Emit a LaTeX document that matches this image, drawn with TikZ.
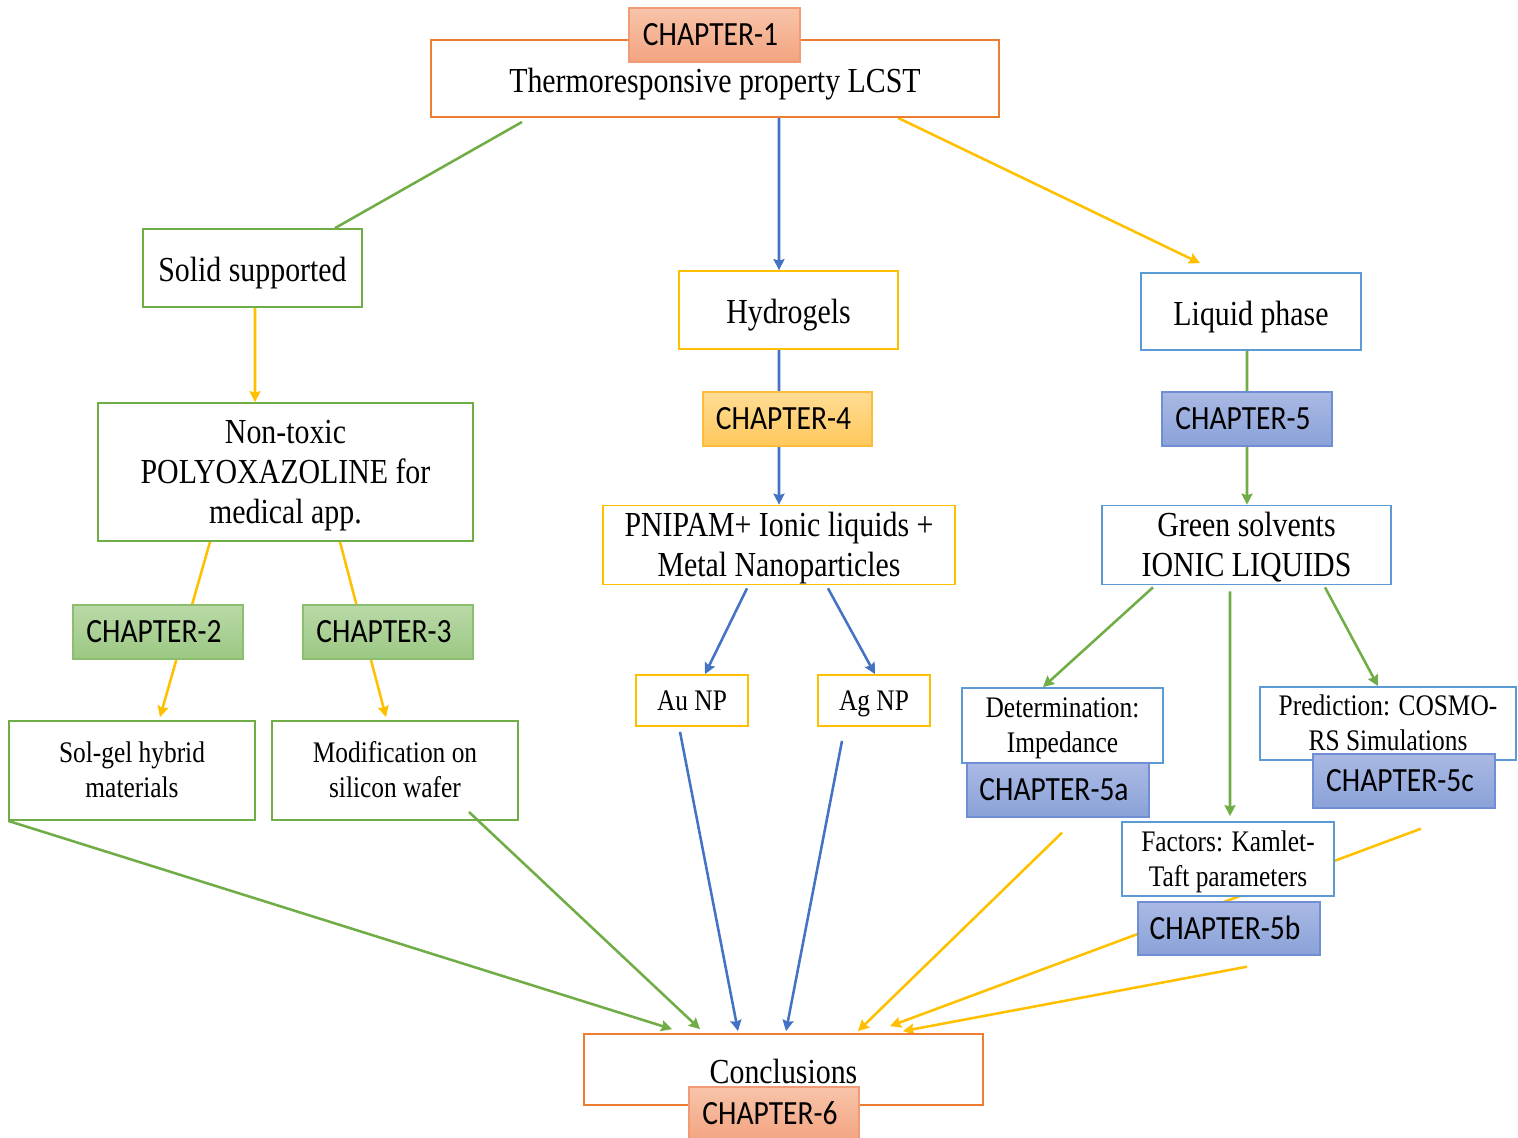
\documentclass[tikz,border=0pt]{standalone}
\usepackage{fontspec}
\setmainfont[FakeStretch=0.85]{Liberation Serif}
\newfontfamily\chapfont[FakeStretch=0.87]{Carlito}
\usetikzlibrary{arrows.meta}
\pgfdeclarelayer{bg}
\pgfsetlayers{bg,main}
\definecolor{corange}{HTML}{ED7D31}
\definecolor{cgreen}{HTML}{70AD47}
\definecolor{cyellow}{HTML}{FFC000}
\definecolor{cblue}{HTML}{4472C4}
\definecolor{cbluebox}{HTML}{5B9BD5}
\definecolor{chorT}{RGB}{248,196,170}
\definecolor{chorD}{RGB}{243,164,128}
\definecolor{chorB}{RGB}{240,155,115}
\definecolor{chgrT}{RGB}{186,217,167}
\definecolor{chgrD}{RGB}{155,200,131}
\definecolor{chgrB}{RGB}{140,190,112}
\definecolor{chyeT}{RGB}{255,220,148}
\definecolor{chyeD}{RGB}{255,200,92}
\definecolor{chyeB}{RGB}{250,190,60}
\definecolor{chblT}{RGB}{170,185,228}
\definecolor{chblD}{RGB}{138,162,216}
\definecolor{chblB}{RGB}{112,142,212}
% struts: big/small text, top line / bottom line / single line
\newcommand{\BT}{\rule{0pt}{17.7pt}}
\newcommand{\BB}{\rule[-4.5pt]{0pt}{4.5pt}}
\newcommand{\BS}{\rule[-5pt]{0pt}{25.4pt}}
\newcommand{\STp}{\rule{0pt}{15.2pt}}
\newcommand{\SBt}{\rule[-4pt]{0pt}{4pt}}
\newcommand{\SSg}{\rule[-4pt]{0pt}{19.2pt}}
\tikzset{
  box/.style={draw, fill=white, line width=1pt, inner sep=0pt, align=center, text=black},
  big/.style={font=\fontsize{20}{22.7}\selectfont},
  small/.style={font=\fontsize{17}{20}\selectfont},
  chap/.style={draw, line width=0.8pt, inner sep=0pt, text=black, font=\chapfont\fontsize{19.3}{22}\selectfont, minimum height=1.08cm, text height=12.9pt, text depth=0.9pt},
  chor/.style={chap, draw=chorB, top color=chorT, bottom color=chorD},
  chgr/.style={chap, draw=chgrB, top color=chgrT, bottom color=chgrD},
  chye/.style={chap, draw=chyeB, top color=chyeT, bottom color=chyeD},
  chbl/.style={chap, draw=chblB, top color=chblT, bottom color=chblD},
  conn/.style={line width=1.45pt, -{Stealth[length=0.22cm,width=0.22cm,inset=0.03cm]}},
  plainline/.style={line width=1.45pt},
}
\newcommand{\chtxt}[1]{#1\kern0.16cm}
\begin{document}
\begin{tikzpicture}[x=0.02cm,y=-0.02cm]
\useasboundingbox (0,0) rectangle (1518,1138);

% ---- nodes ----
\node[box, big, draw=corange, minimum width=11.36cm, minimum height=1.54cm] (top) at (715,78.5) {\BS Thermoresponsive property LCST};
\node[chor, minimum width=3.42cm] (ch1) at (714.5,35) {\chtxt{CHAPTER-1}};

\node[box, big, draw=cgreen, minimum width=4.38cm, minimum height=1.56cm] (solid) at (252.5,268) {\BS Solid supported};
\node[box, big, draw=cyellow, minimum width=4.38cm, minimum height=1.56cm] (hydro) at (788.5,310) {\BS Hydrogels};
\node[box, big, draw=cbluebox, minimum width=4.40cm, minimum height=1.54cm] (liquid) at (1251,311.5) {\BS Liquid phase};

\node[box, big, draw=cgreen, minimum width=7.50cm, minimum height=2.76cm] (nontox) at (285.5,472) {\BT Non-toxic\\POLYOXAZOLINE for\\medical app.\BB};
\node[chgr, minimum width=3.40cm] (ch2) at (158,632) {\chtxt{CHAPTER-2}};
\node[chgr, minimum width=3.40cm] (ch3) at (388,632) {\chtxt{CHAPTER-3}};
\node[box, small, draw=cgreen, minimum width=4.92cm, minimum height=1.98cm] (solgel) at (132,770.5) {\STp Sol-gel hybrid\\materials\SBt};
\node[box, small, draw=cgreen, minimum width=4.92cm, minimum height=1.98cm] (modif) at (395,770.5) {\STp Modification on\\silicon wafer\SBt};

\node[chye, minimum width=3.38cm] (ch4) at (787.5,419) {\chtxt{CHAPTER-4}};
\node[box, big, draw=cyellow, minimum width=7.04cm, minimum height=1.56cm] (pnipam) at (779,545) {\BT PNIPAM+ Ionic liquids +\\Metal Nanoparticles\BB};
\node[box, small, draw=cyellow, minimum width=2.24cm, minimum height=1.02cm] (au) at (692,700.5) {\SSg Au NP};
\node[box, small, draw=cyellow, minimum width=2.24cm, minimum height=1.02cm] (ag) at (874,700.5) {\SSg Ag NP};

\node[chbl, minimum width=3.40cm] (ch5) at (1247,419) {\chtxt{CHAPTER-5}};
\node[box, big, draw=cbluebox, minimum width=5.78cm, minimum height=1.56cm] (green) at (1246.5,545) {\BT Green solvents\\IONIC LIQUIDS\BB};
\node[box, small, draw=cbluebox, minimum width=4.02cm, minimum height=1.50cm] (determ) at (1062.5,725.5) {\STp Determination:\\Impedance\SBt};
\node[chbl, minimum width=3.64cm] (ch5a) at (1058,790) {\chtxt{CHAPTER-5a}};
\node[box, small, draw=cbluebox, minimum width=5.12cm, minimum height=1.46cm] (predict) at (1388,723.5) {\STp Prediction: COSMO-\\RS Simulations\SBt};
\node[chbl, minimum width=3.64cm] (ch5c) at (1404,781) {\chtxt{CHAPTER-5c}};
\node[box, small, draw=cbluebox, minimum width=4.24cm, minimum height=1.48cm] (factors) at (1228,859) {\STp Factors: Kamlet-\\Taft parameters\SBt};
\node[chbl, minimum width=3.64cm, minimum height=1.06cm] (ch5b) at (1229,928.5) {\chtxt{CHAPTER-5b}};

\node[box, big, draw=corange, minimum width=7.98cm, minimum height=1.42cm] (concl) at (783.5,1069.5) {\BS Conclusions};
\node[chor, minimum width=3.40cm] (ch6) at (774,1114) {\chtxt{CHAPTER-6}};

% ---- connectors (behind boxes) ----
\begin{pgfonlayer}{bg}
\coordinate (gstart) at (522,122);
\draw[plainline, cgreen] (gstart) -- ([xshift=1.65cm]solid.north);
\draw[conn, cblue] ([xshift=1.28cm]top.south) -- ([xshift=-0.19cm]hydro.north);
\draw[conn, cyellow] ([xshift=3.66cm]top.south) -- ([xshift=-1.02cm,yshift=0.18cm]liquid.north);
\draw[conn, cyellow] ([xshift=0.05cm]solid.south) -- ([xshift=-0.61cm]nontox.north);
\draw[conn, cyellow] ([xshift=-1.51cm]nontox.south) -- ([xshift=0.56cm,yshift=0.06cm]solgel.north);
\draw[conn, cyellow] ([xshift=1.09cm]nontox.south) -- ([xshift=-0.18cm,yshift=0.06cm]modif.north);
\draw[conn, cblue] ([xshift=-0.19cm]hydro.south) -- (pnipam.north);
\draw[conn, cblue] ([xshift=-0.64cm,yshift=-0.06cm]pnipam.south) -- ([xshift=0.26cm]au.north);
\draw[conn, cblue] ([xshift=0.98cm,yshift=-0.06cm]pnipam.south) -- ([xshift=0.02cm]ag.north);
\draw[conn, cgreen] ([xshift=-0.08cm]liquid.south) -- ([xshift=0.01cm]green.north);
\draw[conn, cgreen] ([xshift=-1.87cm,yshift=-0.04cm]green.south) -- ([xshift=-0.39cm]determ.north);
\draw[conn, cgreen] ([xshift=-0.33cm,yshift=-0.12cm]green.south) -- ([xshift=0.04cm,yshift=0.1cm]factors.north);
\draw[conn, cgreen] ([xshift=1.57cm,yshift=-0.04cm]green.south) -- ([xshift=-0.2cm]predict.north);
\draw[conn, cgreen] (solgel.south west) -- ([xshift=-2.23cm,yshift=0.08cm]concl.north);
\draw[conn, cblue] ([xshift=-0.24cm,yshift=-0.1cm]au.south) -- ([xshift=-0.91cm,yshift=0.04cm]concl.north);
\draw[conn, cblue] ([xshift=-0.64cm,yshift=-0.28cm]ag.south) -- ([xshift=0.05cm,yshift=0.04cm]concl.north);
\draw[conn, cyellow] ([xshift=0.08cm,yshift=-0.3cm]ch5a.south) -- ([xshift=1.49cm,yshift=0.04cm]concl.north);
\draw[conn, cyellow] ([xshift=0.34cm,yshift=-0.4cm]ch5c.south) -- ([xshift=2.13cm,yshift=0.14cm]concl.north);
\draw[conn, cyellow] ([xshift=0.36cm,yshift=-0.22cm]ch5b.south) -- ([xshift=2.39cm,yshift=0.04cm]concl.north);
\end{pgfonlayer}
\coordinate (mstart) at (469,812);
\draw[conn, cgreen] (mstart) -- ([xshift=-1.67cm,yshift=0.08cm]concl.north);
\end{tikzpicture}
\end{document}
